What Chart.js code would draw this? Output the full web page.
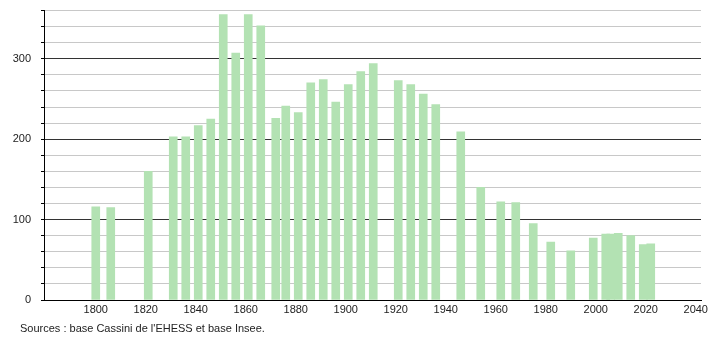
<!DOCTYPE html>
<html>
<head>
<meta charset="utf-8">
<script src="https://cdn.jsdelivr.net/npm/chart.js@4.4.0/dist/chart.umd.min.js"></script>
<style>
  body { margin: 0; background: #fff; }
  #wrap { position: relative; width: 710px; height: 340px; }
  #source {
    position: absolute; left: 20px; top: 322px;
    font: 11px "Liberation Sans", Arial, sans-serif; color: #222;
  }
</style>
</head>
<body>
<div id="wrap">
  <canvas id="chartPop" width="710" height="340"></canvas>
  <div id="source">Sources : base Cassini de l'EHESS et base Insee.</div>
</div>
<script>
// Population par année de recensement
const annees = [1800, 1806, 1821, 1831, 1836, 1841, 1846, 1851, 1856, 1861, 1866, 1872, 1876,
  1881, 1886, 1891, 1896, 1901, 1906, 1911, 1921, 1926, 1931, 1936, 1946, 1954, 1962, 1968,
  1975, 1982, 1990, 1999, 2004, 2006, 2009, 2014, 2019, 2022];
const population = [116, 115, 160, 203, 203, 217, 225, 355, 307, 355, 341, 226, 241,
  233, 270, 274, 246, 268, 284, 294, 273, 268, 256, 243, 209, 140, 122, 121,
  95, 72, 61, 77, 82, 82, 83, 80, 69, 70];

const ticksX = [1800, 1820, 1840, 1860, 1880, 1900, 1920, 1940, 1960, 1980, 2000, 2020, 2040];
const ticksY = [0, 20, 40, 60, 80, 100, 120, 140, 160, 180, 200, 220, 240, 260, 280, 300, 320, 340, 360];

const points = annees.map((a, i) => ({ x: a, y: population[i] }));

const fonte = { family: "'Liberation Sans', Arial, sans-serif", size: 11 };

const chart = new Chart(document.getElementById('chartPop'), {
  type: 'bar',
  data: {
    datasets: [{
      data: points,
      backgroundColor: '#b3e2b3',
      borderWidth: 0,
      barThickness: 8
    }]
  },
  options: {
    responsive: false,
    animation: false,
    layout: { padding: { top: 10.5, right: 9, left: 0, bottom: 0 } },
    plugins: { legend: { display: false }, tooltip: { enabled: false } },
    scales: {
      x: {
        type: 'linear',
        min: 1779.3,
        max: 2042.1,
        offset: false,
        afterBuildTicks: s => { s.ticks = ticksX.map(v => ({ value: v })); },
        afterFit: s => { s.height = 40; s.paddingLeft = 0; s.paddingRight = 0; },
        ticks: {
          color: '#222', font: fonte, padding: 3, maxRotation: 0, autoSkip: false,
          callback: v => String(v)
        },
        grid: { drawOnChartArea: false, drawTicks: false, offset: false },
        border: { color: '#000', width: 1 }
      },
      y: {
        min: 0,
        max: 360,
        afterBuildTicks: s => { s.ticks = ticksY.map(v => ({ value: v })); },
        afterFit: s => { s.width = 44; s.paddingTop = 0; s.paddingBottom = 0; },
        ticks: {
          color: '#222', font: fonte, padding: 10, autoSkip: false,
          callback: v => (v % 100 === 0 ? String(v) : '')
        },
        grid: {
          color: ctx => (ctx.tick && ctx.tick.value % 100 === 0 ? '#333' : '#c8c8c8'),
          tickColor: '#000',
          tickLength: 3
        },
        border: { color: '#000', width: 1 }
      }
    }
  }
});
</script>
</body>
</html>
